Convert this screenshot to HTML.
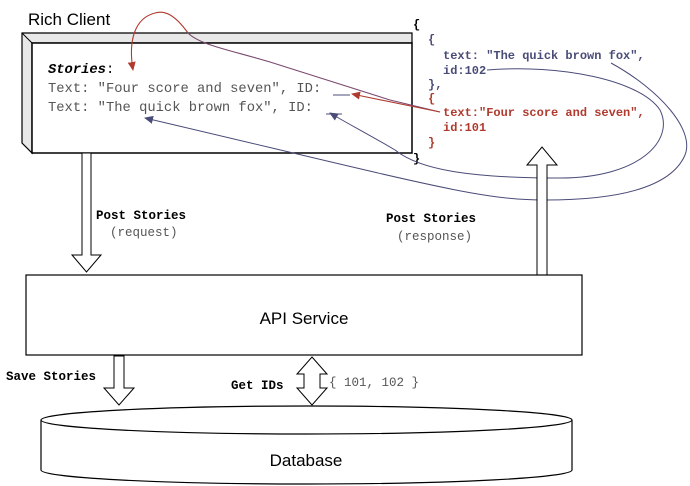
<!DOCTYPE html>
<html><head><meta charset="utf-8"><style>
html,body{margin:0;padding:0;background:#fff;}
svg{display:block;}
.m{font-family:"Liberation Mono",monospace;}
</style></head><body>
<svg width="690" height="486" viewBox="0 0 690 486" xmlns="http://www.w3.org/2000/svg">
<defs>
<marker id="ar" markerWidth="10" markerHeight="10" refX="8" refY="5" orient="auto" markerUnits="userSpaceOnUse"><path d="M0,1 L9,5 L0,9 Z" fill="#b03a2e"/></marker>
<marker id="ab" markerWidth="10" markerHeight="10" refX="8" refY="5" orient="auto" markerUnits="userSpaceOnUse"><path d="M0,1 L9,5 L0,9 Z" fill="#4a4c78"/></marker>
</defs>
<text x="28" y="25" font-family="Liberation Sans, sans-serif" font-size="17" fill="#000">Rich Client</text>
<path d="M22,33 L412,33 L412,43 L32,43 L32,153 L22,143 Z" fill="#e8e8e8" stroke="#000" stroke-width="1.2"/>
<rect x="32" y="43" width="380" height="110" fill="#fff" stroke="#000" stroke-width="1.5"/>
<line x1="22" y1="33" x2="32" y2="43" stroke="#000"/>
<text x="48" y="73" class="m" font-size="13.8" font-weight="bold" font-style="italic" fill="#000">Stories<tspan font-weight="normal" font-style="normal">:</tspan></text>
<text x="48" y="92" class="m" font-size="13.8" fill="#555">Text: "Four score and seven", ID:</text>
<text x="48" y="111" class="m" font-size="13.8" fill="#555">Text: "The quick brown fox", ID:</text>
<line x1="333" y1="95" x2="350" y2="95" stroke="#4a4c78"/>
<line x1="326" y1="114" x2="342" y2="114" stroke="#4a4c78"/>
<g class="m" font-size="12" font-weight="bold">
<text x="413" y="28" fill="#000">{</text>
<text x="428" y="43" fill="#4a4c78">{</text>
<text x="443" y="59" fill="#4a4c78">text: "The quick brown fox",</text>
<text x="443" y="74" fill="#4a4c78">id:102</text>
<text x="428" y="88" fill="#4a4c78">},</text>
<text x="428" y="102" fill="#b03a2e">{</text>
<text x="443" y="116" fill="#b03a2e">text:"Four score and seven",</text>
<text x="443" y="131" fill="#b03a2e">id:101</text>
<text x="428" y="146" fill="#b03a2e">}</text>
<text x="413" y="162" fill="#000">}</text>
</g>
<path d="M440,112 L390,100 L270,62 C230,50 200,45 188,33" fill="none" stroke="#7a4a70" stroke-width="1.1"/>
<path d="M188,33 C175,15 165,10 155,13 C135,18 128,40 133,70" fill="none" stroke="#b03a2e" stroke-width="1.1" marker-end="url(#ar)"/>
<path d="M440,112 L352,94" fill="none" stroke="#b03a2e" stroke-width="1.1" marker-end="url(#ar)"/>
<path d="M487,70 C560,64 640,80 660,110 C675,140 640,178 560,178 C470,178 420,170 395,150 C370,135 350,125 330,113" fill="none" stroke="#4a4c78" stroke-width="1" marker-end="url(#ab)"/>
<path d="M611,63 C660,90 695,130 685,155 C670,190 610,200 545,200 C480,200 430,185 145,118" fill="none" stroke="#4a4c78" stroke-width="1" marker-end="url(#ab)"/>
<path d="M82,153 L91,153 L91,255 L101,255 L86.5,272 L72,255 L82,255 Z" fill="#fff" stroke="#000"/>
<path d="M537,275 L547,275 L547,165 L557,165 L542,147 L527,165 L537,165 Z" fill="#fff" stroke="#000"/>
<g class="m" font-size="12.5">
<text x="96" y="219" font-weight="bold" fill="#000">Post Stories</text>
<text x="110" y="236" fill="#555">(request)</text>
<text x="386" y="222" font-weight="bold" fill="#000">Post Stories</text>
<text x="397" y="240" fill="#555">(response)</text>
<text x="6" y="380" font-weight="bold" fill="#000">Save Stories</text>
<text x="231" y="389" font-weight="bold" fill="#000">Get IDs</text>
<text x="329" y="386" fill="#555">{ 101, 102 }</text>
</g>
<rect x="26" y="275" width="556" height="80" fill="#fff" stroke="#000" stroke-width="1.2"/>
<text x="304" y="324" text-anchor="middle" font-family="Liberation Sans, sans-serif" font-size="17" fill="#000">API Service</text>
<path d="M114,356 L124,356 L124,388 L134,388 L119,405 L104,388 L114,388 Z" fill="#fff" stroke="#000"/>
<path d="M312,357 L327,374 L320,374 L320,388 L327,388 L312,405 L297,388 L304,388 L304,374 L297,374 Z" fill="#fff" stroke="#000"/>
<path d="M41,420 L41,470 A265.5,14 0 0 0 572,470 L572,420" fill="#fff" stroke="#000" stroke-width="1.2"/>
<ellipse cx="306.5" cy="420" rx="265.5" ry="14" fill="#fff" stroke="#000" stroke-width="1.2"/>
<text x="306" y="466" text-anchor="middle" font-family="Liberation Sans, sans-serif" font-size="17" fill="#000">Database</text>
</svg>
</body></html>
